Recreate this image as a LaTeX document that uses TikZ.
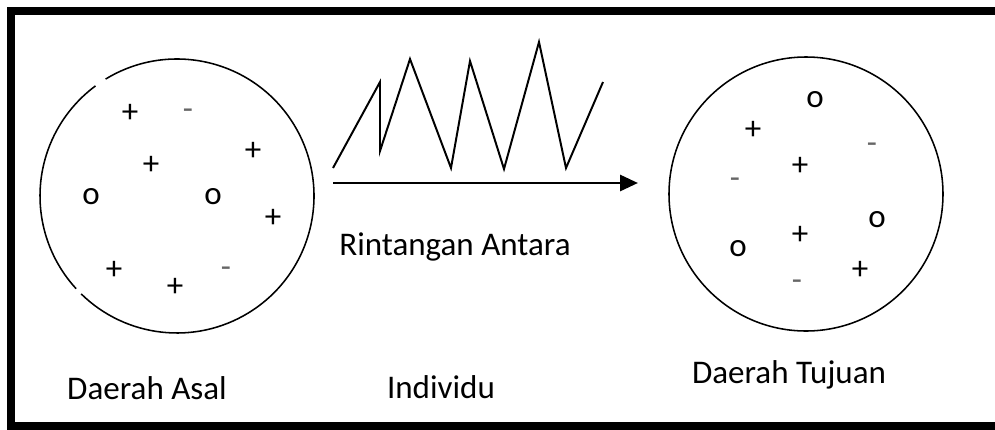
\documentclass[tikz,border=0pt]{standalone}
\usepackage{fontspec}
\setmainfont{Carlito}
\usetikzlibrary{arrows.meta, positioning}

\begin{document}
\begin{tikzpicture}[x=0.025cm, y=-0.025cm,
        every node/.style={font=\fontsize{23.5}{28}\selectfont, inner sep=0pt},
        region/.style={line width=1.1pt},
        barrier/.style={line width=1.4pt, line join=miter},
        move/.style={line width=2.1pt, -{Triangle[length=0.45cm, width=0.4cm]}},
        minus/.style={text=black!60}]
    \useasboundingbox (0,0) rectangle (995,429);
    \clip (0,0) rectangle (995,429);
    \draw[line width=0.2cm] (1000,11) -- (11,11) -- (11,426) -- (1000,426);

    % daerah asal
    \coordinate (asal) at (177,196);
    \draw[region] (asal) ++(238.6:137) arc[start angle=238.6, end angle=494.4, radius=137];
    \draw[region] (asal) ++(137.4:137) arc[start angle=137.4, end angle=233.5, radius=137];
    \foreach \x/\y/\s [count=\i] in {130/113/+, 151/165/+, 253/151/+, 91/197/o, 213/197/o,
                                     273/218/+, 114/270/+, 175/287/+} {
        \node (a-\i) at (\x,\y) {\s};
    };
    \foreach \x/\y [count=\i] in {188/114, 226/272} {
        \node[minus] (am-\i) at (\x,\y) {-};
    };

    % daerah tujuan
    \node[circle, draw, region, minimum size=274*0.025cm] (tujuan) at (806,194) {};
    \foreach \x/\y/\s [count=\i] in {815/100/o, 753/130/+, 800/166/+, 877/220/o, 800/235/+,
                                     738/249/o, 860/270/+} {
        \node (t-\i) at (\x,\y) {\s};
    };
    \foreach \x/\y [count=\i] in {872/148, 735/183, 797/285} {
        \node[minus] (tm-\i) at (\x,\y) {-};
    };

    % rintangan
    \draw[barrier] (333,168) -- (380,82) -- (380,151) -- (410,59) -- (451,168) -- (470,61)
        -- (504,169) -- (539,42) -- (566,168) -- (603,82);
    \coordinate (from) at (333,183);
    \coordinate (to) at (638,183);
    \draw[move] (from) -- (to);

    \node[anchor=base] (lbl-asal) at (147,399) {Daerah Asal};
    \node[anchor=base] (lbl-rintangan) at (455,255) {Rintangan Antara};
    \node[anchor=base] (lbl-individu) at (441,398) {Individu};
    \node[anchor=base] (lbl-tujuan) at (789,383) {Daerah Tujuan};
\end{tikzpicture}
\end{document}
